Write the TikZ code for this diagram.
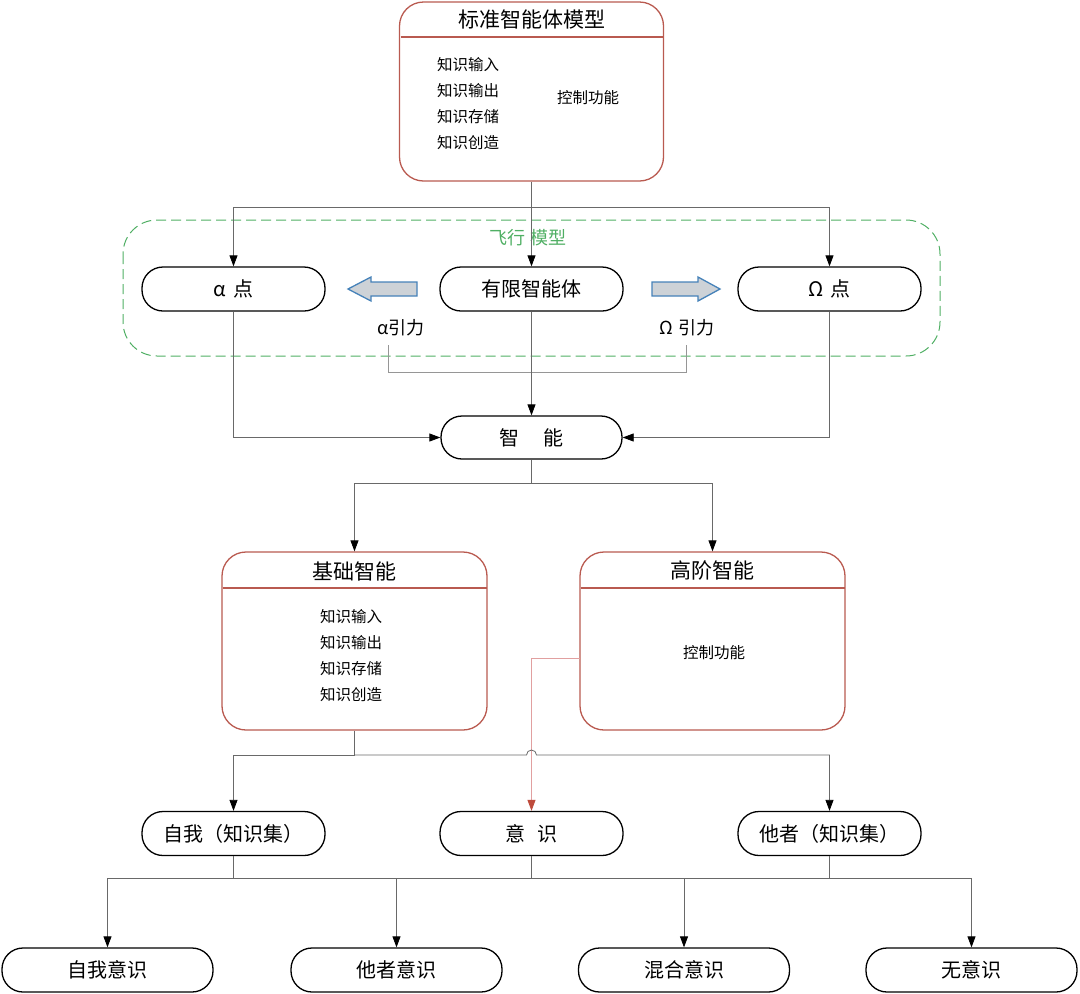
\documentclass[tikz,border=0pt]{standalone}
\usepackage{fontspec}
\setmainfont{Noto Sans CJK SC}
\usetikzlibrary{arrows.meta}
\definecolor{boxred}{RGB}{185,90,80}
\definecolor{linegray}{RGB}{105,105,105}
\definecolor{lightgray2}{RGB}{150,150,150}
\definecolor{flygreen}{RGB}{80,175,100}
\definecolor{arrfill}{RGB}{205,210,215}
\definecolor{arrblue}{RGB}{70,130,185}
\definecolor{pinkline}{RGB}{225,160,160}
\definecolor{redtip}{RGB}{190,75,60}
\begin{document}
\begin{tikzpicture}[x=1pt,y=-1pt,
  pill/.style={draw=black,line width=1.3pt,rounded corners=21pt,minimum width=183pt,minimum height=44pt,inner sep=0pt,font=\fontsize{20}{22}\selectfont},
  bigbox/.style={draw=boxred,line width=1.3pt,rounded corners=24pt,inner sep=0pt},
  title/.style={font=\fontsize{21}{24}\selectfont},
  list/.style={font=\fontsize{15.5}{26}\selectfont,align=left,inner sep=0pt},
  conn/.style={draw=linegray,line width=0.8pt},
  arr/.style={-{Triangle[length=11pt,width=8pt,color=black,fill=black]}},
  blockarr/.style={draw=arrblue,fill=arrfill,line width=1.3pt,line join=miter}
]
\useasboundingbox (0,0) rectangle (1080,994);

% flight model region
\draw[flygreen,dashed,dash pattern=on 10pt off 5pt,line width=1pt,rounded corners=34pt] (123,220) rectangle (940,356);
\node[text=flygreen,font=\fontsize{18}{22}\selectfont] (fly) at (528,238) {飞行 模型};

% top box
\node[bigbox,minimum width=264pt,minimum height=179pt] (std) at (531.5,91.5) {};
\draw[boxred,line width=1.3pt] (400.5,37) -- (663.5,37);
\node[title] (stdt) at (531.5,19) {标准智能体模型};
\node[list,anchor=west] (stdl) at (437,103.5) {知识输入\\知识输出\\知识存储\\知识创造};
\node[list] (stdc) at (588,98) {控制功能};

% middle row
\node[pill] (alpha) at (233.5,289) {α\hspace{0.35em}点};
\node[pill] (yx) at (531.5,289) {有限智能体};
\node[pill] (omega) at (829.5,289) {Ω\hspace{0.35em}点};

% block arrows
\draw[blockarr] (417,282) -- (371,282) -- (371,277) -- (348,289) -- (371,301) -- (371,296) -- (417,296) -- cycle;
\draw[blockarr] (652,282) -- (698,282) -- (698,277) -- (720,289) -- (698,301) -- (698,296) -- (652,296) -- cycle;
\node[font=\fontsize{18}{22}\selectfont] (ag) at (401,328) {α引力};
\node[font=\fontsize{18}{22}\selectfont] (og) at (687,328) {Ω\hspace{0.25em}引力};

% connectors top
\coordinate (t1) at (531.5,207);
\draw[conn,arr] (std.south) -- (yx.north);
\draw[conn,arr] (t1) -| (alpha.north);
\draw[conn,arr] (t1) -| (omega.north);

% bracket
\coordinate (b1) at (388,345);
\coordinate (b2) at (686,345);
\draw[draw=lightgray2,line width=0.8pt] (b1) -- (388,372) -- (686,372) -- (b2);

% zhineng
\node[pill,minimum width=181pt,minimum height=43pt] (zn) at (531.5,437.5) {智\hspace{1.2em}能};
\draw[conn,arr] (yx.south) -- (zn.north);
\draw[conn,arr] (alpha.south) |- (zn.west);
\draw[conn,arr] (omega.south) |- (zn.east);

% second level boxes
\node[bigbox,minimum width=265pt,minimum height=178pt] (jc) at (354.5,641) {};
\draw[boxred,line width=1.3pt] (222.5,588) -- (486.5,588);
\node[title] (jct) at (354.5,571) {基础智能};
\node[list,align=center] (jcl) at (351,656) {知识输入\\知识输出\\知识存储\\知识创造};

\node[bigbox,minimum width=265pt,minimum height=178pt] (gj) at (712.5,641) {};
\draw[boxred,line width=1.3pt] (580.5,588) -- (844.5,588);
\node[title] (gjt) at (712.5,571) {高阶智能};
\node[list] (gjc) at (714,653) {控制功能};

\coordinate (t2) at (531.5,483);
\draw[conn] (zn.south) -- (t2);
\draw[conn,arr] (t2) -| (jc.north);
\draw[conn,arr] (t2) -| (gj.north);

% third row
\node[pill] (ziwo) at (233.5,833.5) {自我（知识集）};
\node[pill] (yishi) at (531.5,833.5) {意\hspace{0.6em}识};
\node[pill] (tazhe) at (829.5,833.5) {他者（知识集）};

\coordinate (r0) at (580,658);
\draw[draw=pinkline,line width=0.9pt,-{Triangle[length=11pt,width=8pt,fill=redtip,color=redtip]}] (r0) -| (yishi.north);

\coordinate (t3) at (354.5,755);
\draw[conn] (jc.south) -- (t3);
\draw[conn,arr] (t3) -| (ziwo.north);
\draw[conn,arr] (t3) -- (526.5,755) arc[start angle=180,end angle=0,radius=5pt] -| (tazhe.north);

% bottom row
\node[pill,minimum width=211pt] (n1) at (107.5,970) {自我意识};
\node[pill,minimum width=211pt] (n2) at (396.5,970) {他者意识};
\node[pill,minimum width=211pt] (n3) at (684,970) {混合意识};
\node[pill,minimum width=211pt] (n4) at (971.5,970) {无意识};

\coordinate (h) at (0,878);
\draw[conn] (yishi.south) -- (yishi.south |- h);
\draw[conn] (n2.north |- h) -- (n3.north |- h);
\draw[conn,arr] (ziwo.south) |- (n1.north |- h) -- (n1.north);
\draw[conn,arr] (ziwo.south) |- (n2.north |- h) -- (n2.north);
\draw[conn,arr] (tazhe.south) |- (n3.north |- h) -- (n3.north);
\draw[conn,arr] (tazhe.south) |- (n4.north |- h) -- (n4.north);
\end{tikzpicture}
\end{document}
